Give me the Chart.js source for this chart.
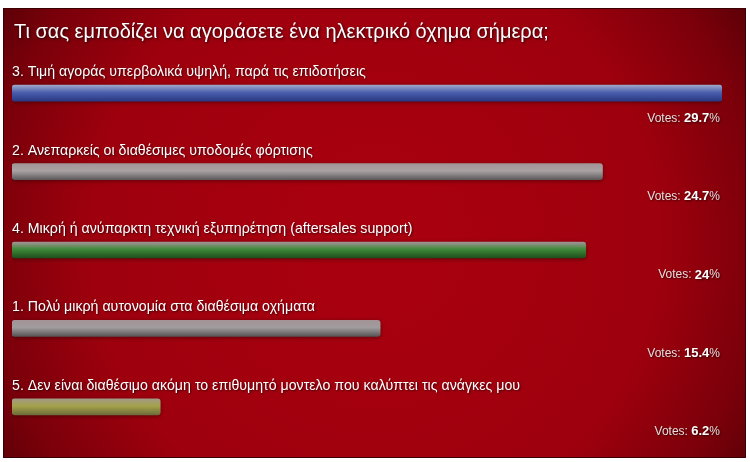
<!DOCTYPE html>
<html>
<head>
<meta charset="utf-8">
<script src="https://cdn.jsdelivr.net/npm/chart.js@4.4.1/dist/chart.umd.min.js"></script>
<style>
  html, body { margin: 0; padding: 0; background: #ffffff; }
  canvas { display: block; }
</style>
</head>
<body>
<canvas id="graficoVotos" width="750" height="462"></canvas>
<script>
var titulo = "Τι σας εμποδίζει να αγοράσετε ένα ηλεκτρικό όχημα σήμερα;";

var opcoes = [
    "3. Τιμή αγοράς υπερβολικά υψηλή, παρά τις επιδοτήσεις",
    "2. Ανεπαρκείς οι διαθέσιμες υποδομές φόρτισης",
    "4. Μικρή ή ανύπαρκτη τεχνική εξυπηρέτηση (aftersales support)",
    "1. Πολύ μικρή αυτονομία στα διαθέσιμα οχήματα",
    "5. Δεν είναι διαθέσιμο ακόμη το επιθυμητό μοντελο που καλύπτει τις ανάγκες μου"
];

var votos = [29.7, 24.7, 24, 15.4, 6.2];

// top, middle, bottom colour of each bar
var coresBarras = [
    ["#9ea6c8", "#4a5fae", "#2a3882"],
    ["#a39396", "#a9a3a4", "#5e5a5b"],
    ["#a39396", "#3f8a3a", "#1f4f1c"],
    ["#a39396", "#a09c9d", "#585455"],
    ["#a39a86", "#a5a24a", "#6e6d3a"]
];

var fundo = {
    id: 'fundo',
    beforeDraw: function(chart){
        var ctx = chart.ctx;
        ctx.save();
        ctx.fillStyle = "#ffffff";
        ctx.fillRect(0, 0, chart.width, chart.height);
        var g = ctx.createRadialGradient(375, 240, 60, 375, 240, 470);
        g.addColorStop(0, "#a8000f");
        g.addColorStop(0.55, "#9e000d");
        g.addColorStop(0.8, "#7a000a");
        g.addColorStop(1, "#4a0005");
        ctx.fillStyle = g;
        ctx.fillRect(3, 8, 743, 450);
        ctx.strokeStyle = "#3a0004";
        ctx.lineWidth = 1;
        ctx.strokeRect(3.5, 8.5, 742, 449);

        ctx.shadowColor = "rgba(0,0,0,0.8)";
        ctx.shadowBlur = 3;
        ctx.shadowOffsetX = 1;
        ctx.shadowOffsetY = 1;
        ctx.fillStyle = "#ffffff";
        ctx.font = "20px 'Liberation Sans', Arial, sans-serif";
        ctx.textBaseline = "middle";
        ctx.fillText(titulo, 14, 32);
        ctx.restore();
    }
};

// sombra suave nas barras
var sombra = {
    id: 'sombra',
    beforeDatasetsDraw: function(chart){
        var ctx = chart.ctx;
        ctx.save();
        ctx.shadowColor = "rgba(40,0,0,0.55)";
        ctx.shadowBlur = 4;
        ctx.shadowOffsetX = 0;
        ctx.shadowOffsetY = 1;
    },
    afterDatasetsDraw: function(chart){
        chart.ctx.restore();
    }
};

var textos = {
    id: 'textos',
    afterDatasetsDraw: function(chart){
        var ctx = chart.ctx;
        var meta = chart.getDatasetMeta(0);
        ctx.save();
        ctx.textBaseline = "middle";
        ctx.shadowColor = "rgba(0,0,0,0.6)";
        ctx.shadowBlur = 2;
        ctx.shadowOffsetX = 1;
        ctx.shadowOffsetY = 1;
        meta.data.forEach(function(barra, i){
            var y = barra.y;
            ctx.fillStyle = "#ffffff";
            ctx.font = "14.2px 'Liberation Sans', Arial, sans-serif";
            ctx.textAlign = "left";
            ctx.fillText(opcoes[i], 12, y - 21);

            var direita = 720;
            ctx.font = "12px 'Liberation Sans', Arial, sans-serif";
            var wPerc = ctx.measureText("%").width;
            var wVotes = ctx.measureText("Votes: ").width;
            ctx.font = "bold 13px 'Liberation Sans', Arial, sans-serif";
            var num = String(votos[i]);
            var wNum = ctx.measureText(num).width;
            var x = direita - wPerc - wNum - wVotes;
            ctx.font = "12px 'Liberation Sans', Arial, sans-serif";
            ctx.fillStyle = "#e8dcdc";
            ctx.fillText("Votes: ", x, y + 25);
            ctx.font = "bold 13px 'Liberation Sans', Arial, sans-serif";
            ctx.fillStyle = "#ffffff";
            ctx.fillText(num, x + wVotes, y + 25);
            ctx.font = "12px 'Liberation Sans', Arial, sans-serif";
            ctx.fillStyle = "#e8dcdc";
            ctx.fillText("%", x + wVotes + wNum, y + 25);
        });
        ctx.restore();
    }
};

function corBarra(context){
    var chart = context.chart;
    var i = context.dataIndex;
    var area = chart.chartArea;
    if (!area || !isFinite(area.top) || !isFinite(area.bottom)) return coresBarras[i][1];
    var banda = (area.bottom - area.top) / votos.length;
    var yc = area.top + (i + 0.5) * banda;
    var c = coresBarras[i];
    var g = chart.ctx.createLinearGradient(0, yc - 8, 0, yc + 8);
    g.addColorStop(0, c[0]);
    g.addColorStop(0.45, c[1]);
    g.addColorStop(1, c[2]);
    return g;
}

var grafico = new Chart(document.getElementById('graficoVotos').getContext('2d'), {
    type: 'bar',
    data: {
        labels: opcoes,
        datasets: [{
            data: votos,
            backgroundColor: corBarra,
            borderWidth: 0,
            borderRadius: 3,
            borderSkipped: false,
            barThickness: 16
        }]
    },
    options: {
        indexAxis: 'y',
        responsive: false,
        animation: false,
        layout: { padding: { left: 12, right: 28, top: 54, bottom: 16 } },
        scales: {
            x: { display: false, min: 0, max: Math.max.apply(null, votos) },
            y: { display: false }
        },
        plugins: {
            legend: { display: false },
            tooltip: { enabled: false }
        }
    },
    plugins: [fundo, sombra, textos]
});
</script>
</body>
</html>
